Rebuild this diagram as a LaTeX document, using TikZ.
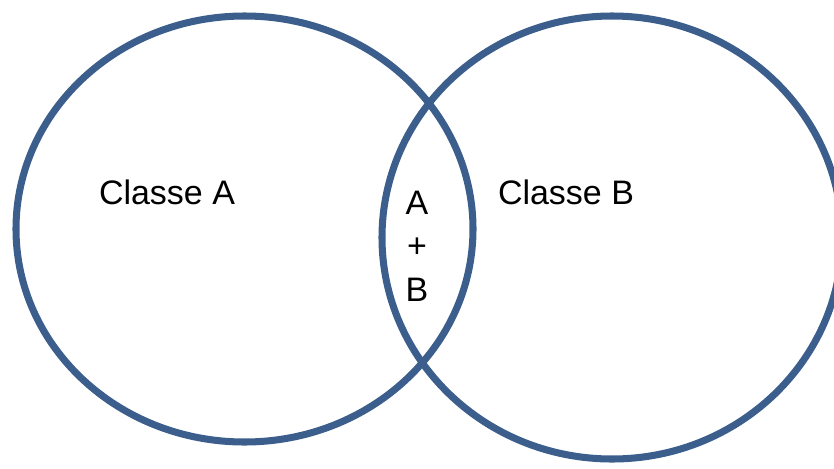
\documentclass[tikz,border=0pt]{standalone}
\usepackage{fontspec}
\setmainfont{Liberation Sans}
\usetikzlibrary{shapes.geometric}
\definecolor{setblue}{RGB}{59,94,140}

\begin{document}
\begin{tikzpicture}[
    x=0.03cm, y=-0.03cm,
    set/.style={ellipse, draw=setblue, line width=6pt, inner sep=0pt},
    label/.style={font=\fontsize{29}{37}\selectfont, inner sep=0pt}
]
\clip (0,0) rectangle (834,468);

% the two classes
\node[set, minimum width=13.71cm, minimum height=12.78cm] (setA) at (244.5,229) {};
\node[set, minimum width=13.8cm, minimum height=13.29cm] (setB) at (612,237.5) {};

% labels
\node[label] (lblA) at (167,192.5) {Classe A};
\node[label] (lblB) at (566,192.5) {Classe B};
\node[label, align=center] (inter) at (417,246) {A\\+\\B};

\end{tikzpicture}
\end{document}
